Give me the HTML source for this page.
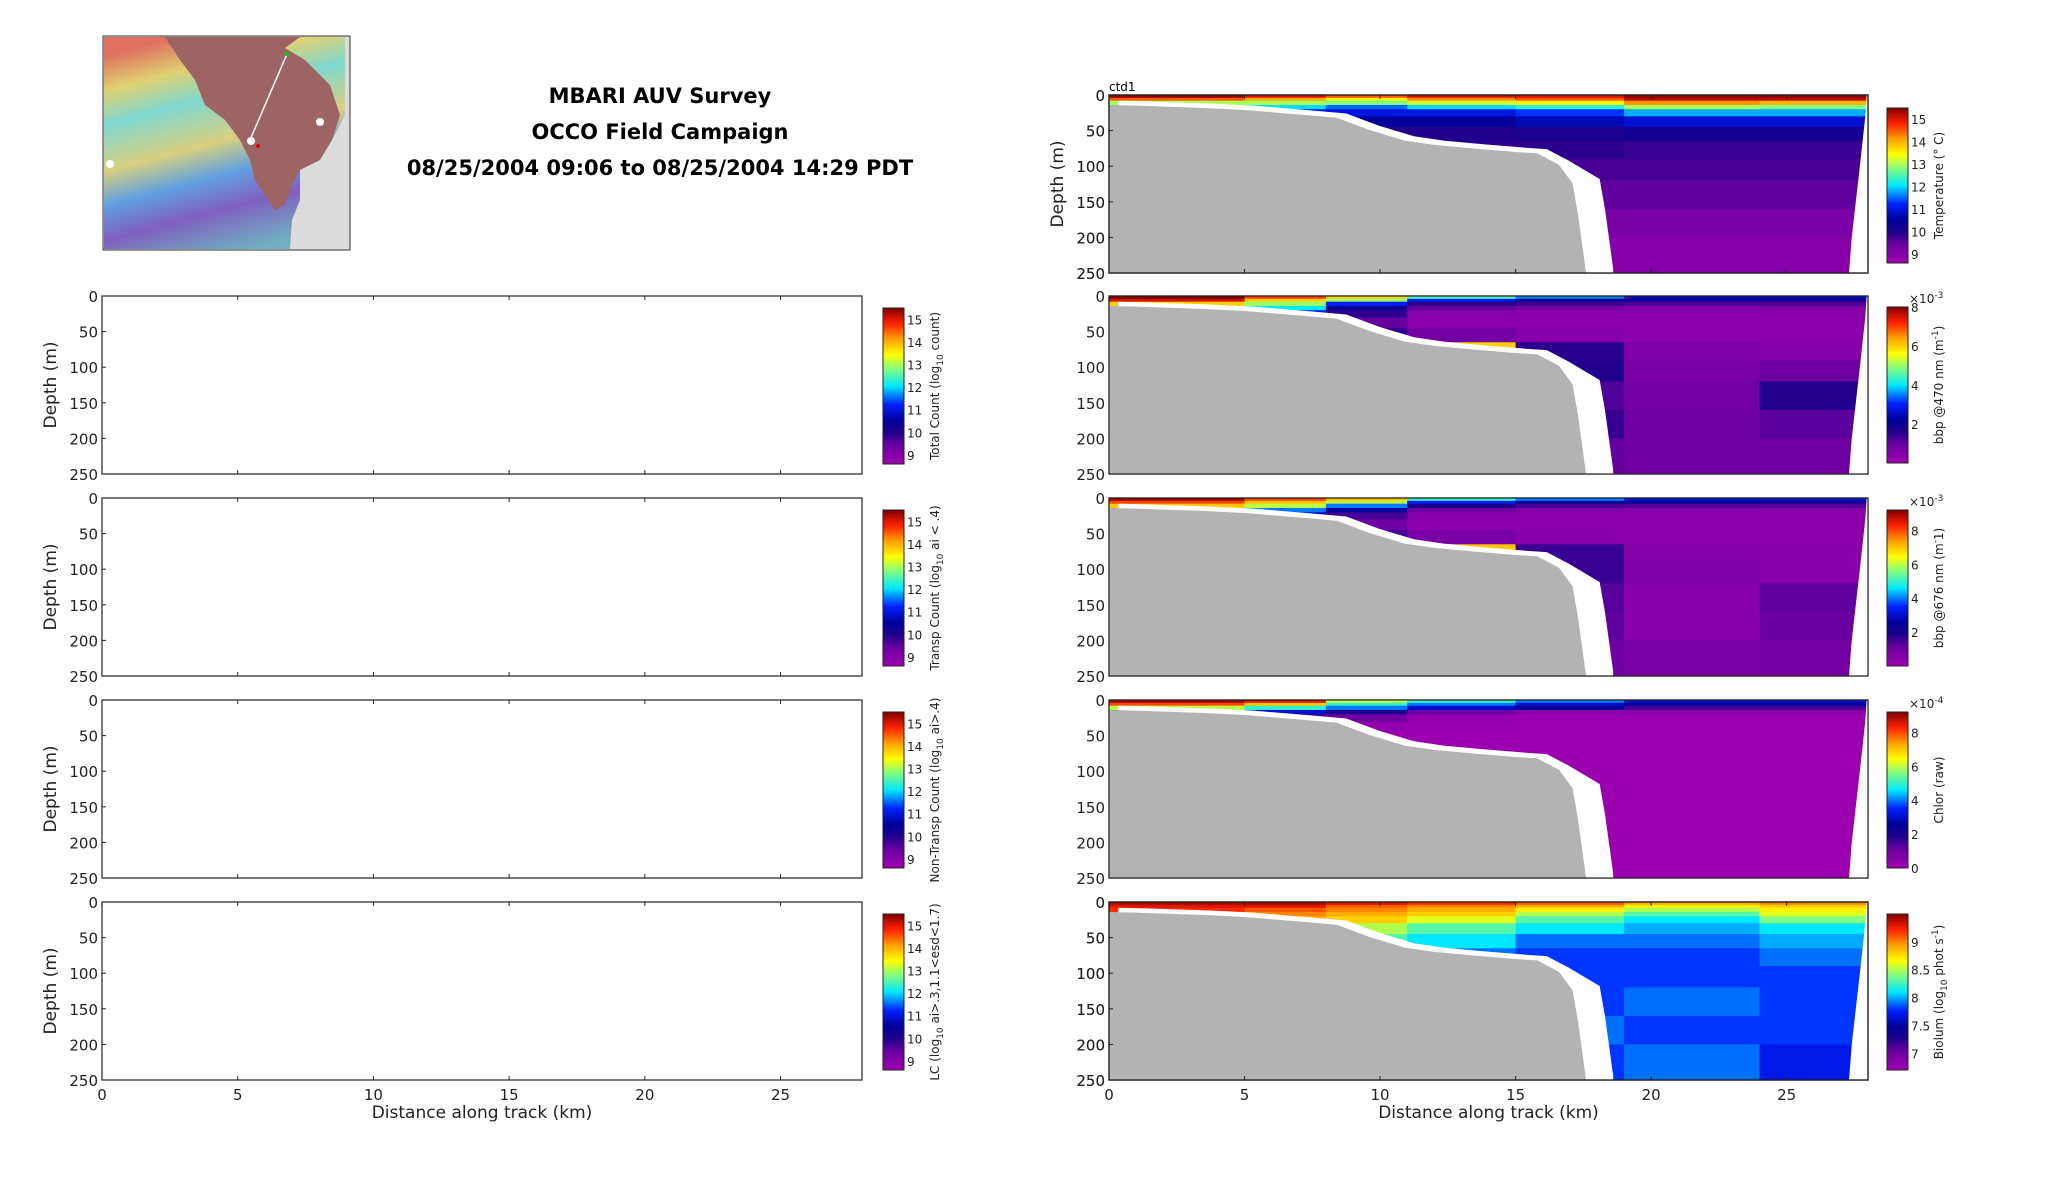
<!DOCTYPE html>
<html><head><meta charset="utf-8"><style>
html,body{margin:0;padding:0;background:#fff;}
svg{display:block;font-family:"DejaVu Sans","Liberation Sans",sans-serif;}
.t{font-size:15px;fill:#222;}
.ti{font-family:"DejaVu Sans","Liberation Sans",sans-serif;font-weight:bold;font-size:21px;fill:#000;}
.lab{font-family:"DejaVu Sans","Liberation Sans",sans-serif;font-size:17px;fill:#222;}
.cl{font-family:"DejaVu Sans","Liberation Sans",sans-serif;font-size:12px;fill:#222;}
.ck{font-size:12px;fill:#222;}
</style></head><body>
<svg id="fig" width="2052" height="1188" viewBox="0 0 2052 1188" xmlns="http://www.w3.org/2000/svg">
<defs>
<linearGradient id="cmap" x1="0" y1="1" x2="0" y2="0">
<stop offset="0" stop-color="#a000b0"/><stop offset="0.12" stop-color="#6a00a0"/><stop offset="0.2" stop-color="#20008c"/>
<stop offset="0.28" stop-color="#00009a"/><stop offset="0.38" stop-color="#0020ff"/><stop offset="0.5" stop-color="#00e8ff"/>
<stop offset="0.62" stop-color="#90ff70"/><stop offset="0.7" stop-color="#ffff00"/><stop offset="0.8" stop-color="#ffa000"/>
<stop offset="0.9" stop-color="#ff2000"/><stop offset="1" stop-color="#800000"/>
</linearGradient>
<linearGradient id="rain" x1="0.3" y1="0" x2="0.6" y2="1">
<stop offset="0" stop-color="#e07060"/><stop offset="0.15" stop-color="#e0d070"/><stop offset="0.3" stop-color="#80d8d0"/><stop offset="0.5" stop-color="#d8d080"/><stop offset="0.65" stop-color="#60a0e0"/><stop offset="0.8" stop-color="#8060c0"/><stop offset="1" stop-color="#70b0c0"/>
</linearGradient>
</defs>
<g id="map">
<rect x="103" y="36" width="247" height="214" fill="#dcdcdc" stroke="#333"/>
<path d="M104,37 L345,37 L345,249 L104,249 Z" fill="url(#rain)"/>
<path d="M165,37 L300,37 L285,48 L305,60 L330,85 L340,115 L332,140 L320,160 L300,170 L292,185 L285,205 L275,210 L255,180 L250,160 L240,140 L225,120 L205,105 L195,80 L180,60 Z" fill="#9e6464"/>
<path d="M300,170 L320,160 L332,140 L345,115 L345,249 L290,249 L292,220 L300,200 Z" fill="#dcdcdc"/>
<line x1="287" y1="54" x2="250" y2="140" stroke="#fff" stroke-width="1.5"/>
<circle cx="287" cy="54" r="2" fill="#0c0"/><circle cx="258" cy="146" r="2" fill="#d00"/>
<circle cx="320" cy="122" r="4" fill="#fff"/><circle cx="110" cy="164" r="4" fill="#fff"/><circle cx="251" cy="141" r="4" fill="#fff"/>
</g>
<text class="ti" x="660" y="103" text-anchor="middle">MBARI AUV Survey</text>
<text class="ti" x="660" y="139" text-anchor="middle">OCCO Field Campaign</text>
<text class="ti" x="660" y="175" text-anchor="middle">08/25/2004 09:06 to 08/25/2004 14:29 PDT</text>
<text x="1109" y="91" style="font-size:12px">ctd1</text>
</svg>
<script>
// ---- data ----
const xTicks=[0,5,10,15,20,25];
const yTicks=[0,50,100,150,200,250];
const secX=[0,5,8,11,15,19,24,28];
const depthEdges=[0,4,8,14,20,30,45,65,90,120,160,200,250];
const bathyX=[0,1,3.4,5,7.2,8.4,9.6,10.9,12,13.4,15,15.8,16.6,17.1,17.3,17.6];
const bathyD=[14,15,18,21,28,32,49,64,70,75,80,82,98,124,167,250];
const tempVals=[
[15.4,15,14.5,15,15,15.4,15.4],[14.5,14,13.5,14.2,14.5,15.2,15.2],[13,13,12.8,13.2,13.5,14.2,14],[12,12,11.5,12,12.3,13,12.8],
[11,11,11,11,11.3,11.8,11.8],[10.5,10.5,10.5,10.5,10.7,10.9,10.9],[10,10,10,10,10.1,10.2,10.2],[9.9,9.9,9.9,9.9,9.9,9.8,9.8],
[9.7,9.7,9.7,9.7,9.7,9.7,9.7],[9.5,9.5,9.5,9.5,9.5,9.5,9.5],[9.2,9.2,9.2,9.2,9.2,9.2,9.2],[9,9,9,9,9,9,9]];
const bbp470Vals=[
[8,7,6,4.5,3.5,2.5,2.5],[7.5,6,5,3,2,2,1.8],[6,5,3,1.5,1.3,1.2,1.2],[5,4,2,1,0.7,0.5,0.6],
[4,3,1.5,0.5,0.4,0.4,0.4],[3,2,1,0.4,0.4,0.4,0.4],[2,2,1.5,0.8,0.5,0.4,0.4],[1,1,1,6,1.5,0.6,0.5],
[1,1,1,1,1.6,0.7,0.9],[1,1,1,1,1.2,0.8,1.6],[1,1,1,1,1.4,0.9,1.1],[1,1,1,1,1,0.9,0.9]];
const bbp676Vals=[
[9,8,7,5,4,3,3],[8,7,6,3.5,2.5,2.5,2.2],[7,6,4,2,1.5,1.3,1.3],[5,4,2.5,1,0.7,0.5,0.6],
[4,3,1.5,0.5,0.4,0.4,0.4],[3,2,1,0.4,0.4,0.4,0.4],[2,2,1.5,0.8,0.5,0.4,0.4],[1,1,1,7,1.6,0.6,0.5],
[1,1,1,1,1.6,0.7,0.5],[1,1,1,1,1.3,0.5,1.2],[1,1,1,1,1.2,0.5,1.1],[1,1,1,1,1,0.8,0.9]];
const chlorVals=[
[9,8.5,6,5,4,3,3],[8,7,5,4,3,2.5,2.5],[6,5,4,3,2.5,1.5,1.5],[4,3,2,1,0.5,0.4,0.4],
[2,1.5,1,0.3,0.2,0.2,0.2],[0.5,0.5,0.3,0.2,0.1,0.1,0.1],[0.2,0.2,0.1,0.1,0.1,0.1,0.1],[0.1,0.1,0.1,0.1,0.1,0.1,0.1],
[0.1,0.1,0.1,0.1,0.1,0.1,0.1],[0.1,0.1,0.1,0.1,0.1,0.1,0.1],[0.1,0.1,0.1,0.1,0.1,0.1,0.1],[0.1,0.1,0.1,0.1,0.1,0.1,0.1]];
const biolumVals=[
[9.4,9.4,9.3,9.2,9.1,8.9,9],[9.3,9.3,9.1,9,8.9,8.7,8.8],[9.2,9.1,9,8.9,8.7,8.5,8.7],[9,9,8.9,8.8,8.5,8.3,8.6],
[8.9,8.9,8.8,8.6,8.3,8.1,8.4],[8.7,8.6,8.5,8.3,8.1,8,8.1],[8.5,8.4,8.3,8.1,7.9,7.9,8],[8.3,8.2,8.1,7.9,7.8,7.8,7.9],
[8.2,8.1,8,7.8,7.8,7.8,7.8],[8,8,8,7.8,7.8,7.9,7.8],[8,8,8,7.8,7.9,7.8,7.8],[8,8,8,7.8,7.8,7.9,7.7]];
const tempTicks=[9,10,11,12,13,14,15];
const bbpTicks=[2,4,6,8];
const chlorTicks=[0,2,4,6,8];
const biolumTicks=[7,7.5,8,8.5,9];

// ---- layout ----
const NS="http://www.w3.org/2000/svg";
const svg=document.getElementById('fig');
function el(t,a,p){const e=document.createElementNS(NS,t);for(const k in a)e.setAttribute(k,a[k]);(p||svg).appendChild(e);return e;}
const stops=[[0,[160,0,176]],[0.12,[106,0,160]],[0.2,[32,0,140]],[0.28,[0,0,154]],[0.38,[0,32,255]],[0.5,[0,232,255]],[0.62,[144,255,112]],[0.7,[255,255,0]],[0.8,[255,160,0]],[0.9,[255,32,0]],[1,[128,0,0]]];
function cmap(t){t=Math.max(0,Math.min(1,t));for(let i=1;i<stops.length;i++){if(t<=stops[i][0]){const a=stops[i-1],b=stops[i];const f=(t-a[0])/(b[0]-a[0]);const c=a[1].map((v,j)=>Math.round(v+(b[1][j]-v)*f));return 'rgb('+c.join(',')+')';}}return 'rgb(128,0,0)';}
const rows=[296,498,700,902];const H=178;
const L={x0:102,x1:862},R={x0:1109,x1:1868};
let clipN=0;
function axes(P,y0,showX,showYLabel,name){
  const sx=v=>P.x0+(v/28)*(P.x1-P.x0), sy=v=>y0+(v/250)*H;
  const g=el('g',{});
  
  
  el('rect',{x:P.x0,y:y0,width:P.x1-P.x0,height:H,fill:'none',stroke:'#222','stroke-width':1.2},g);
  xTicks.forEach(v=>{el('line',{x1:sx(v),x2:sx(v),y1:y0,y2:y0+4,stroke:'#222'},g);el('line',{x1:sx(v),x2:sx(v),y1:y0+H,y2:y0+H-4,stroke:'#222'},g);
    if(showX){const t=el('text',{x:sx(v),y:y0+H+20,'text-anchor':'middle',class:'t'},g);t.textContent=v;}});
  yTicks.forEach(v=>{el('line',{x1:P.x0,x2:P.x0+4,y1:sy(v),y2:sy(v),stroke:'#222'},g);const t=el('text',{x:P.x0-4,y:sy(v)+6,'text-anchor':'end',class:'t'},g);t.textContent=v;});
  if(showYLabel){const t=el('text',{x:0,y:0,class:'lab','text-anchor':'middle',transform:'translate('+(P.x0-46)+','+(y0+H/2)+') rotate(-90)'},g);t.textContent='Depth (m)';}
  if(showX){const t=el('text',{x:(P.x0+P.x1)/2,y:y0+H+38,'text-anchor':'middle',class:'lab'},g);t.textContent='Distance along track (km)';}
  return {sx,sy};
}
function colorbar(x,y0,h,vmin,vmax,ticks,label,name,sup){
  const g=el('g',{});
  
  
  el('rect',{x:x,y:y0,width:21,height:h,fill:'url(#cmap)',stroke:'#222'},g);
  ticks.forEach(v=>{const yy=y0+h-(v-vmin)/(vmax-vmin)*h;const t=el('text',{x:x+24,y:yy+5,class:'ck'},g);t.textContent=v;});
  if(sup){const t=el('text',{x:x+22,y:y0-4,class:'cl'},g);t.innerHTML='×10<tspan dy="-5" font-size="9">'+sup+'</tspan>';}
  const t=el('text',{x:0,y:0,class:'cl','text-anchor':'middle',transform:'translate('+(x+56)+','+(y0+h/2)+') rotate(-90)'},g);t.innerHTML=label;
}
function field(y0,vals,vmin,vmax,name){
  const ax=axes(R,y0,false,false,name);
  const id='c'+(clipN++);
  const cp=el('clipPath',{id:id});el('rect',{x:R.x0,y:y0,width:R.x1-R.x0,height:H},cp);
  const g=el('g',{'clip-path':'url(#'+id+')'});
  
  
  for(let i=0;i<depthEdges.length-1;i++)for(let j=0;j<secX.length-1;j++){
    const r=el('rect',{x:ax.sx(secX[j]),y:ax.sy(depthEdges[i]),width:ax.sx(secX[j+1])-ax.sx(secX[j])+0.5,height:ax.sy(depthEdges[i+1])-ax.sy(depthEdges[i])+0.5,fill:cmap((vals[i][j]-vmin)/(vmax-vmin))},g);
    
    
  }
  let gap='M'+ax.sx(0)+','+ax.sy(250);
  bathyX.forEach((bx,k)=>{const sh=bathyD[k]>120?1.0:0.35;gap+=' L'+ax.sx(Math.min(28,bx+sh))+','+ax.sy(Math.max(2,bathyD[k]-6));});
  gap+=' L'+ax.sx(18.6)+','+ax.sy(250)+' Z';
  const w=el('path',{d:gap,fill:'#fff'},g);
  
  
  const re=el('path',{d:'M'+ax.sx(28)+','+ax.sy(0)+' L'+ax.sx(28)+','+ax.sy(250)+' L'+ax.sx(27.3)+','+ax.sy(250)+' L'+ax.sx(27.4)+','+ax.sy(200)+' L'+ax.sx(27.7)+','+ax.sy(100)+' L'+ax.sx(27.9)+','+ax.sy(30)+' L'+ax.sx(27.95)+','+ax.sy(0)+' Z',fill:'#fff'},g);
  
  
  let d='M'+ax.sx(0)+','+ax.sy(250);
  bathyX.forEach((bx,k)=>{d+=' L'+ax.sx(bx)+','+ax.sy(bathyD[k]);});
  d+=' Z';
  const b=el('path',{d:d,fill:'#b3b3b3'},g);
  
  
  el('rect',{x:R.x0,y:y0,width:R.x1-R.x0,height:H,fill:'none',stroke:'#222','stroke-width':1.2});
}
// left empty panels
const leftLabels=['Total Count (log<tspan dy="4" font-size="9">10</tspan><tspan dy="-4"> count)</tspan>','Transp Count (log<tspan dy="4" font-size="9">10</tspan><tspan dy="-4"> ai &lt; .4)</tspan>','Non-Transp Count (log<tspan dy="4" font-size="9">10</tspan><tspan dy="-4"> ai&gt;.4)</tspan>','LC (log<tspan dy="4" font-size="9">10</tspan><tspan dy="-4"> ai&gt;.3,1.1&lt;esd&lt;1.7)</tspan>'];
const leftNames=['total-count','transp-count','non-transp-count','lc-count'];
rows.forEach((y0,i)=>{axes(L,y0,i===3,true,leftNames[i]);colorbar(883,y0+12,156,8.6,15.5,tempTicks,leftLabels[i],leftNames[i]+'-colorbar');});
// right panels
field(95,tempVals,8.6,15.5,'temperature');
axes(R,95,false,true,'temperature-label');
colorbar(1887,108,155,8.6,15.5,tempTicks,'Temperature (° C)','temperature-colorbar');
field(rows[0],bbp470Vals,0,8,'bbp470');
colorbar(1887,rows[0]+11,156,0,8,bbpTicks,'bbp @470 nm (m<tspan dy="-5" font-size="9">-1</tspan><tspan dy="5">)</tspan>','bbp470-colorbar','-3');
field(rows[1],bbp676Vals,0,9.2,'bbp676');
colorbar(1887,rows[1]+12,156,0,9.2,bbpTicks,'bbp @676 nm (m<tspan dy="-5" font-size="9">-</tspan><tspan dy="5">1)</tspan>','bbp676-colorbar','-3');
field(rows[2],chlorVals,0,9.2,'chlor');
colorbar(1887,rows[2]+12,156,0,9.2,chlorTicks,'Chlor (raw)','chlor-colorbar','-4');
field(rows[3],biolumVals,6.7,9.5,'biolum');
axes(R,rows[3],true,false,'biolum-x');
colorbar(1887,rows[3]+12,156,6.7,9.5,biolumTicks,'Biolum (log<tspan dy="4" font-size="9">10</tspan><tspan dy="-4"> phot s</tspan><tspan dy="-5" font-size="9">-1</tspan><tspan dy="5">)</tspan>','biolum-colorbar');
</script>
</body></html>
